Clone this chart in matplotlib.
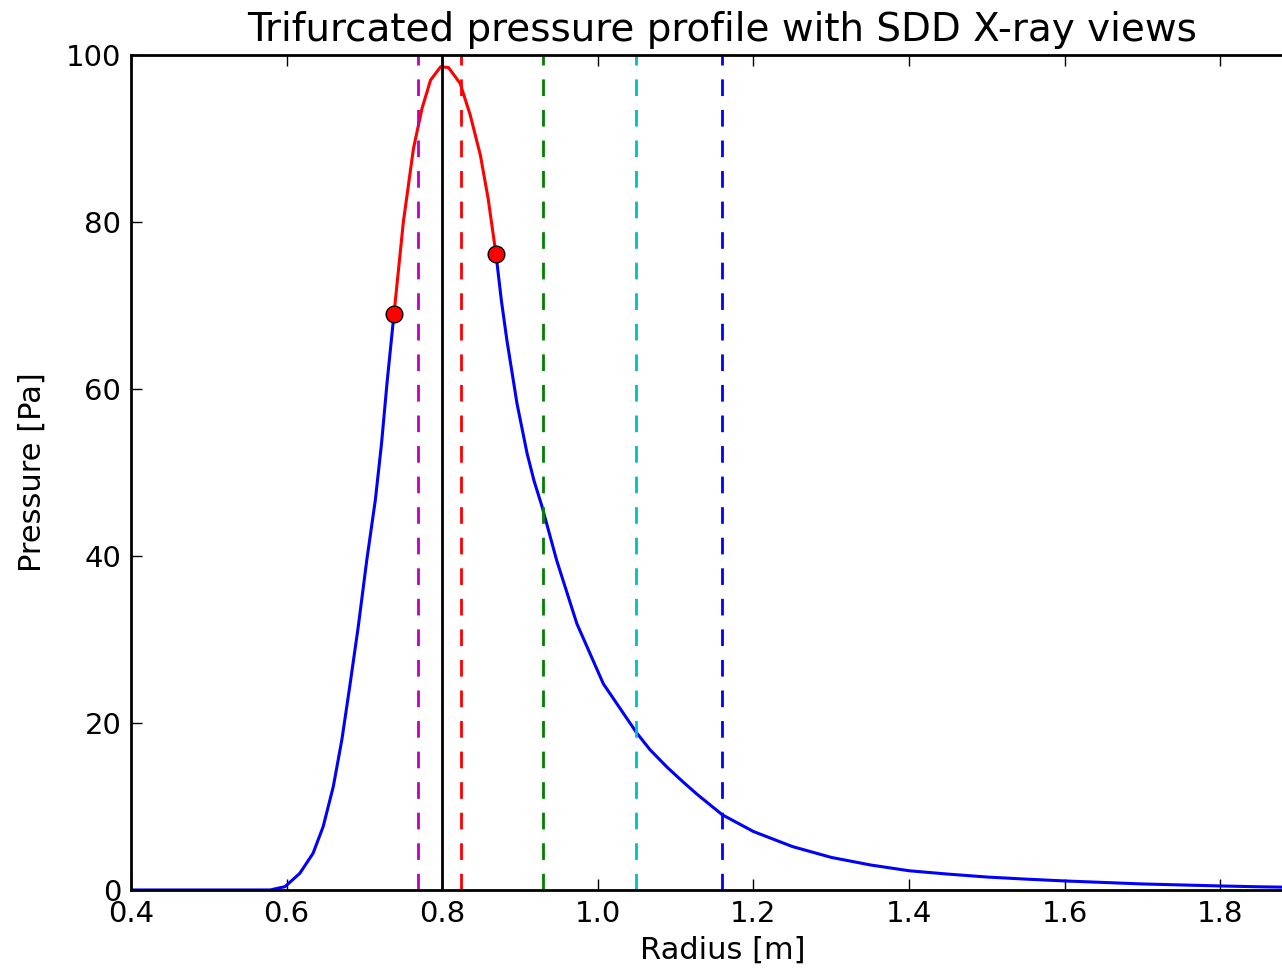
import numpy as np
import matplotlib
matplotlib.use('Agg')
import matplotlib.pyplot as plt

# pressure profile
r_left = [0.40, 0.579, 0.598, 0.617, 0.634, 0.647, 0.660, 0.671, 0.681, 0.692,
          0.703, 0.714, 0.722, 0.729, 0.738]
p_left = [0.0, 0.0, 0.4, 2.0, 4.4, 7.6, 12.4, 18.0, 24.3, 31.5,
          39.5, 46.7, 53.5, 60.7, 69.0]

r_mid = [0.738, 0.750, 0.763, 0.774, 0.785, 0.798, 0.808, 0.823, 0.836, 0.849, 0.859, 0.869]
p_mid = [69.0, 80.0, 88.8, 93.6, 97.0, 98.6, 98.5, 96.6, 92.8, 88.0, 82.8, 76.2]

r_right = [0.869, 0.876, 0.883, 0.896, 0.909, 0.918, 0.928, 0.947, 0.973, 1.007, 1.050, 1.067,
           1.089, 1.11, 1.127, 1.16, 1.2, 1.25, 1.3, 1.35, 1.4, 1.45, 1.5,
           1.55, 1.6, 1.65, 1.7, 1.75, 1.8, 1.85, 1.92]
p_right = [76.2, 70.6, 65.9, 58.3, 52.3, 49.0, 46.0, 39.5, 31.9, 24.7, 18.8, 16.8,
           14.7, 12.9, 11.5, 9.0, 7.0, 5.2, 3.9, 3.0, 2.3, 1.9, 1.55,
           1.3, 1.08, 0.9, 0.72, 0.6, 0.48, 0.38, 0.28]

# trifurcation points
r_pts = [0.738, 0.869]
p_pts = [69.0, 76.2]

# peak location and SDD views
r_peak = 0.80
view_r = [0.769, 0.824, 0.93, 1.049, 1.16]
view_col = ['m', 'r', 'g', 'c', 'b']

plt.rcParams['font.family'] = 'DejaVu Sans'
plt.rcParams['xtick.direction'] = 'in'
plt.rcParams['ytick.direction'] = 'in'

fig = plt.figure(figsize=(12.82, 9.72), dpi=100)
ax = fig.add_axes([0.1022, 0.0844, 0.9225, 0.859])

ax.plot(r_left, p_left, color='b', lw=2.2)
ax.plot(r_right, p_right, color='b', lw=2.2)
ax.plot(r_mid, p_mid, color='r', lw=2.2)

for r, c in zip(view_r, view_col):
    ax.axvline(r, color=c, lw=2, linestyle='--', dashes=(6, 5))
ax.axvline(r_peak, color='k', lw=2)

ax.plot(r_pts, p_pts, 'o', color='r', markersize=12, markeredgecolor='k',
        markeredgewidth=1, zorder=5)

ax.set_xlim(0.4, 1.92)
ax.set_ylim(0, 100)
ax.set_xticks([0.4, 0.6, 0.8, 1.0, 1.2, 1.4, 1.6, 1.8])
ax.set_yticks([0, 20, 40, 60, 80, 100])
ax.tick_params(labelsize=21, length=8, width=1, top=True, right=True, pad=7)
for s in ax.spines.values():
    s.set_linewidth(2)

ax.set_xlabel('Radius [m]', fontsize=22, labelpad=6)
ax.set_ylabel('Pressure [Pa]', fontsize=22, labelpad=14)
ax.set_title('Trifurcated pressure profile with SDD X-ray views', fontsize=28, pad=10)

fig.savefig('out.png', dpi=100)
